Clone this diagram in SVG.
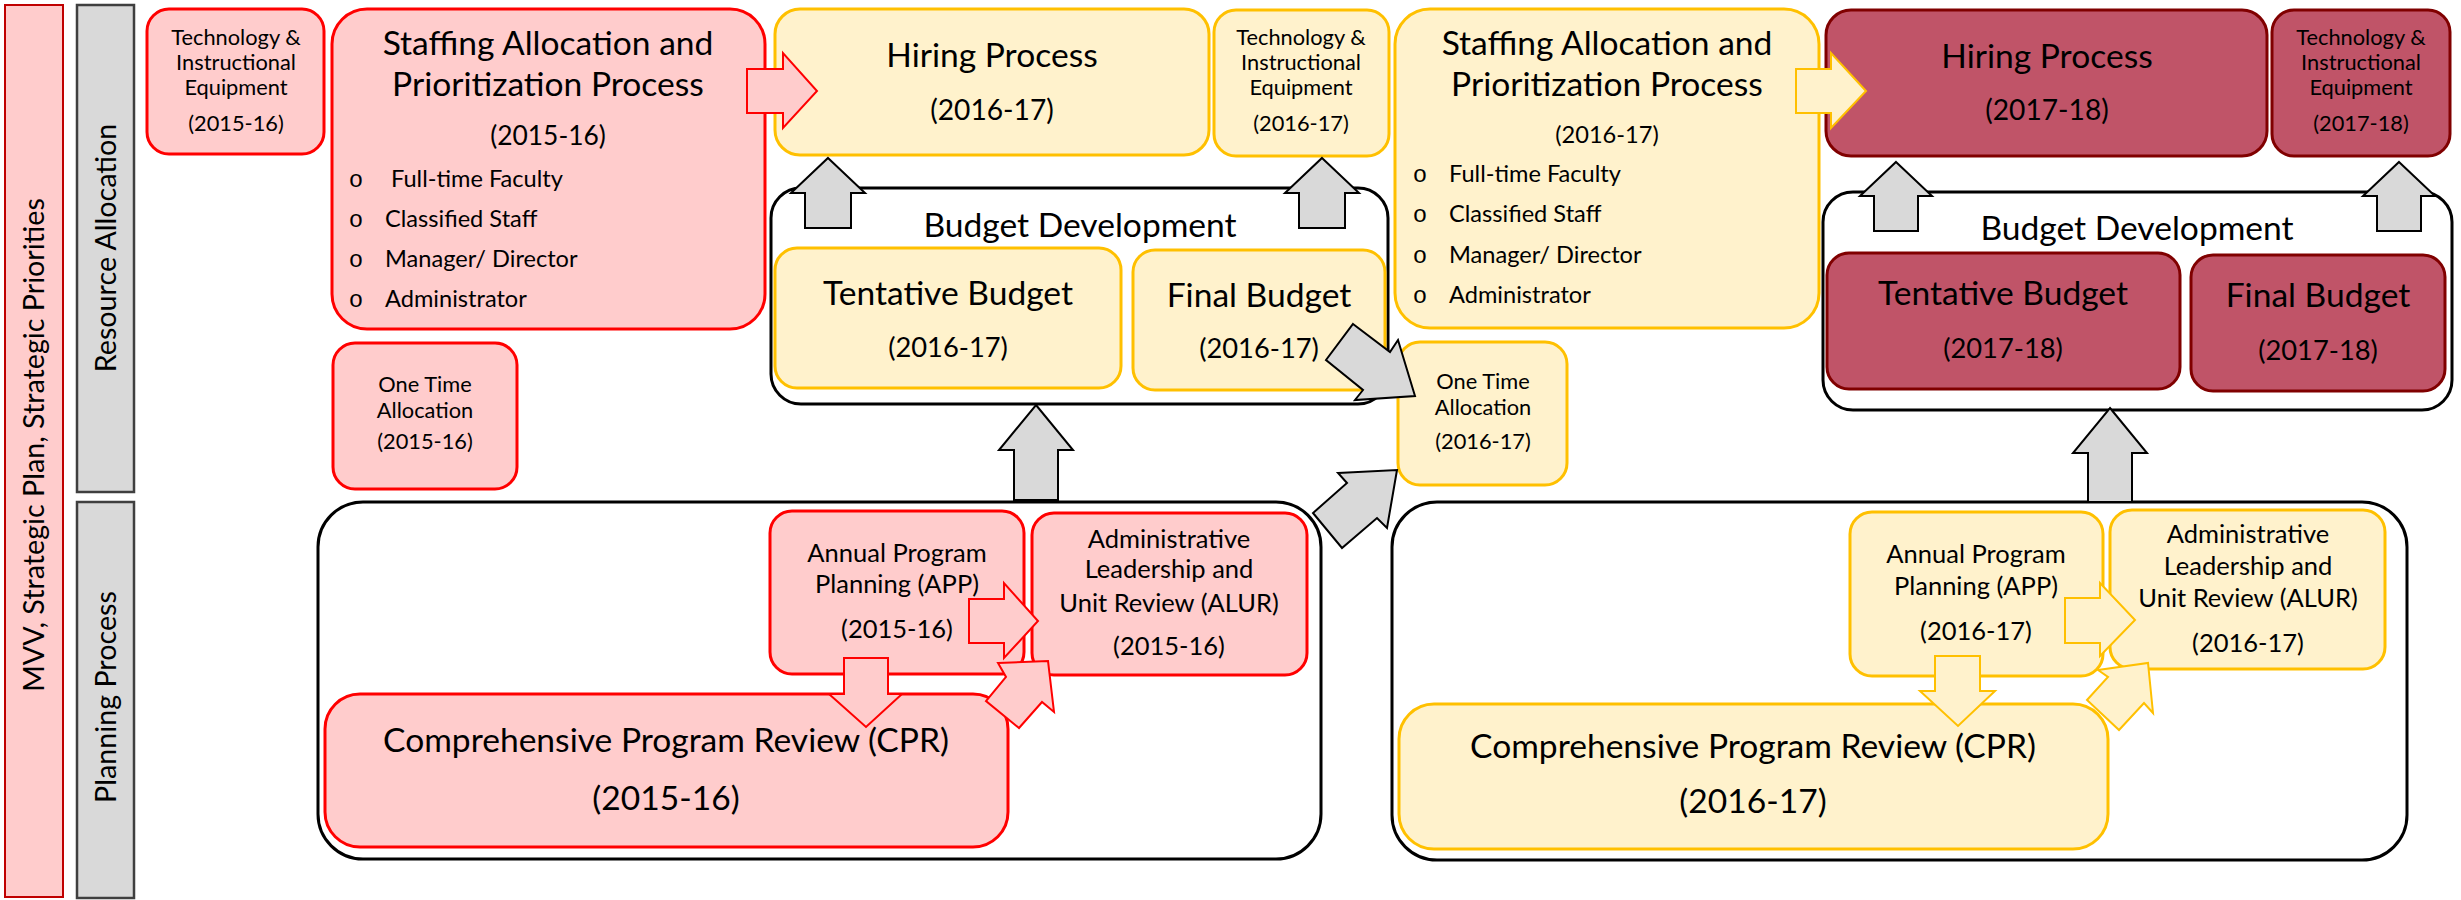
<svg xmlns="http://www.w3.org/2000/svg" width="2461" height="900" viewBox="0 0 2461 900">
<style>
.bg{fill:#ffffff}
.pink{fill:#FFCCCC;stroke:#FF0000;stroke-width:3}
.yel{fill:#FFF2CC;stroke:#FFC000;stroke-width:3}
.mar{fill:#C05468;stroke:#800000;stroke-width:3}
.cont{fill:#ffffff;stroke:#000000;stroke-width:3}
.bar{fill:#D9D9D9;stroke:#3F3F3F;stroke-width:2.5}
.mvv{fill:#FFCCCC;stroke:#C00000;stroke-width:2}
.garrow{fill:#D9D9D9;stroke:#000000;stroke-width:2}
.parrow{fill:#FFCCCC;stroke:#FF0000;stroke-width:2}
.yarrow{fill:#FFF2CC;stroke:#FFC000;stroke-width:2}
text{font-family:Lato,"Liberation Sans",sans-serif;fill:#000000}
.c{text-anchor:middle}
.side{font-size:28.7px;text-anchor:middle}
.t37{font-size:33.6px}
.t31{font-size:28.2px}
.t30{font-size:27.3px}
.t29{font-size:26.4px}
.t28{font-size:25.5px}
.t26{font-size:23.6px}
.t24{font-size:21.8px}
.bul{font-family:"Liberation Mono",monospace;font-size:24px;text-anchor:middle}
</style>
<rect class="bg" x="0" y="0" width="2461" height="900"/>

<g id="mvv">
<rect class="mvv" x="5" y="5" width="58" height="892"/>
<text class="side" transform="translate(44,445) rotate(-90)">MVV, Strategic Plan, Strategic Priorities</text>
</g>
<g id="resource-allocation">
<rect class="bar" x="77" y="5" width="57" height="487"/>
<text class="side" transform="translate(116,248) rotate(-90)">Resource Allocation</text>
</g>
<g id="planning-process">
<rect class="bar" x="77" y="502" width="57" height="396"/>
<text class="side" transform="translate(116,697) rotate(-90)">Planning Process</text>
</g>

<!-- containers -->
<g id="budget-dev-2016">
<rect class="cont" x="771" y="188" width="617" height="216" rx="30"/>
<text class="c t37" x="1080" y="237">Budget Development</text>
</g>
<g id="budget-dev-2017">
<rect class="cont" x="1823" y="192" width="629" height="218" rx="30"/>
<text class="c t37" x="2137" y="240">Budget Development</text>
</g>
<g id="planning-2015">
<rect class="cont" x="318" y="502" width="1003" height="357" rx="45"/>
</g>
<g id="planning-2016">
<rect class="cont" x="1392" y="502" width="1015" height="358" rx="45"/>
</g>

<!-- 2015-16 -->
<g id="tech-2015">
<rect class="pink" x="147" y="9" width="177" height="145" rx="22"/>
<text class="c t24" x="236" y="45">Technology &amp;</text>
<text class="c t24" x="236" y="70">Instructional</text>
<text class="c t24" x="236" y="95">Equipment</text>
<text class="c t24" x="236" y="131">(2015-16)</text>
</g>
<g id="staffing-2015">
<rect class="pink" x="332" y="9" width="433" height="320" rx="35"/>
<text class="c t37" x="548" y="55">Staffing Allocation and</text>
<text class="c t37" x="548" y="96">Prioritization Process</text>
<text class="c t29" x="548" y="145">(2015-16)</text>
<text class="bul" x="356" y="187">o</text>
<text class="t26" x="391" y="187">Full-time Faculty</text>
<text class="bul" x="356" y="227">o</text>
<text class="t26" x="385" y="227">Classified Staff</text>
<text class="bul" x="356" y="267">o</text>
<text class="t26" x="385" y="267">Manager/ Director</text>
<text class="bul" x="356" y="307">o</text>
<text class="t26" x="385" y="307">Administrator</text>
</g>
<g id="onetime-2015">
<rect class="pink" x="333" y="343" width="184" height="146" rx="22"/>
<text class="c t24" x="425" y="392">One Time</text>
<text class="c t24" x="425" y="418">Allocation</text>
<text class="c t24" x="425" y="449">(2015-16)</text>
</g>
<g id="app-2015">
<rect class="pink" x="770" y="511" width="254" height="163" rx="22"/>
<text class="c t28" x="897" y="562">Annual Program</text>
<text class="c t28" x="897" y="593">Planning (APP)</text>
<text class="c t28" x="897" y="638">(2015-16)</text>
</g>
<g id="alur-2015">
<rect class="pink" x="1032" y="513" width="275" height="162" rx="22"/>
<text class="c t28" x="1169" y="548">Administrative</text>
<text class="c t28" x="1169" y="578">Leadership and</text>
<text class="c t28" x="1169" y="612">Unit Review (ALUR)</text>
<text class="c t28" x="1169" y="655">(2015-16)</text>
</g>
<g id="cpr-2015">
<rect class="pink" x="325" y="694" width="683" height="153" rx="35"/>
<text class="c t37" x="666" y="752">Comprehensive Program Review (CPR)</text>
<text class="c t37" x="666" y="810">(2015-16)</text>
</g>

<!-- 2016-17 -->
<g id="hiring-2016">
<rect class="yel" x="775" y="9" width="434" height="146" rx="25"/>
<text class="c t37" x="992" y="67">Hiring Process</text>
<text class="c t31" x="992" y="120">(2016-17)</text>
</g>
<g id="tech-2016">
<rect class="yel" x="1214" y="10" width="175" height="146" rx="22"/>
<text class="c t24" x="1301" y="45">Technology &amp;</text>
<text class="c t24" x="1301" y="70">Instructional</text>
<text class="c t24" x="1301" y="95">Equipment</text>
<text class="c t24" x="1301" y="131">(2016-17)</text>
</g>
<g id="tentative-2016">
<rect class="yel" x="775" y="248" width="346" height="140" rx="22"/>
<text class="c t37" x="948" y="305">Tentative Budget</text>
<text class="c t30" x="948" y="357">(2016-17)</text>
</g>
<g id="final-2016">
<rect class="yel" x="1133" y="250" width="252" height="140" rx="22"/>
<text class="c t37" x="1259" y="307">Final Budget</text>
<text class="c t30" x="1259" y="358">(2016-17)</text>
</g>
<g id="staffing-2016">
<rect class="yel" x="1395" y="9" width="424" height="319" rx="35"/>
<text class="c t37" x="1607" y="55">Staffing Allocation and</text>
<text class="c t37" x="1607" y="96">Prioritization Process</text>
<text class="c t26" x="1607" y="143">(2016-17)</text>
<text class="bul" x="1420" y="182">o</text>
<text class="t26" x="1449" y="182">Full-time Faculty</text>
<text class="bul" x="1420" y="222">o</text>
<text class="t26" x="1449" y="222">Classified Staff</text>
<text class="bul" x="1420" y="263">o</text>
<text class="t26" x="1449" y="263">Manager/ Director</text>
<text class="bul" x="1420" y="303">o</text>
<text class="t26" x="1449" y="303">Administrator</text>
</g>
<g id="onetime-2016">
<rect class="yel" x="1398" y="342" width="169" height="143" rx="22"/>
<text class="c t24" x="1483" y="389">One Time</text>
<text class="c t24" x="1483" y="415">Allocation</text>
<text class="c t24" x="1483" y="449">(2016-17)</text>
</g>
<g id="app-2016">
<rect class="yel" x="1850" y="512" width="253" height="164" rx="22"/>
<text class="c t28" x="1976" y="563">Annual Program</text>
<text class="c t28" x="1976" y="595">Planning (APP)</text>
<text class="c t28" x="1976" y="640">(2016-17)</text>
</g>
<g id="alur-2016">
<rect class="yel" x="2110" y="510" width="275" height="159" rx="22"/>
<text class="c t28" x="2248" y="543">Administrative</text>
<text class="c t28" x="2248" y="575">Leadership and</text>
<text class="c t28" x="2248" y="607">Unit Review (ALUR)</text>
<text class="c t28" x="2248" y="652">(2016-17)</text>
</g>
<g id="cpr-2016">
<rect class="yel" x="1399" y="704" width="709" height="145" rx="35"/>
<text class="c t37" x="1753" y="758">Comprehensive Program Review (CPR)</text>
<text class="c t37" x="1753" y="813">(2016-17)</text>
</g>

<!-- 2017-18 -->
<g id="hiring-2017">
<rect class="mar" x="1826" y="10" width="441" height="146" rx="25"/>
<text class="c t37" x="2047" y="68">Hiring Process</text>
<text class="c t31" x="2047" y="120">(2017-18)</text>
</g>
<g id="tech-2017">
<rect class="mar" x="2272" y="10" width="178" height="146" rx="22"/>
<text class="c t24" x="2361" y="45">Technology &amp;</text>
<text class="c t24" x="2361" y="70">Instructional</text>
<text class="c t24" x="2361" y="95">Equipment</text>
<text class="c t24" x="2361" y="131">(2017-18)</text>
</g>
<g id="tentative-2017">
<rect class="mar" x="1827" y="253" width="353" height="136" rx="22"/>
<text class="c t37" x="2003" y="305">Tentative Budget</text>
<text class="c t30" x="2003" y="358">(2017-18)</text>
</g>
<g id="final-2017">
<rect class="mar" x="2191" y="255" width="254" height="136" rx="22"/>
<text class="c t37" x="2318" y="307">Final Budget</text>
<text class="c t30" x="2318" y="360">(2017-18)</text>
</g>

<g id="connectors">
<polygon class="garrow" points="828,158 865,193 851,193 851,228 805,228 805,193 791,193"/>
<polygon class="garrow" points="1322,158 1359,193 1345,193 1345,228 1299,228 1299,193 1285,193"/>
<polygon class="garrow" points="1896,162 1932,196 1918,196 1918,231 1874,231 1874,196 1860,196"/>
<polygon class="garrow" points="2399,162 2435,196 2421,196 2421,231 2377,231 2377,196 2363,196"/>
<polygon class="garrow" points="1036,405 1073,450 1058,450 1058,500 1014,500 1014,450 999,450"/>
<polygon class="garrow" points="2110,408 2147,453 2132,453 2132,502 2088,502 2088,453 2073,453"/>
<polygon class="garrow" points="1353,324 1390,352 1398,340 1415,396 1355,400 1363,390 1326,360"/>
<polygon class="garrow" points="1338,473 1397,470 1387,528 1377,518 1342,548 1313,513 1347,483"/>
<polygon class="parrow" points="747,69 783,69 783,53 817,91 783,128 783,113 747,113"/>
<polygon class="parrow" points="969,599 1004,599 1004,583 1038,621 1004,658 1004,643 969,643"/>
<polygon class="parrow" points="844,658 888,658 888,694 902,694 866,727 829,694 844,694"/>
<polygon class="parrow" points="998,663 1048,661 1054,712 1042,702 1019,728 986,701 1006,677"/>
<polygon class="yarrow" points="1796,69 1831,69 1831,53 1866,91 1831,128 1831,113 1796,113"/>
<polygon class="yarrow" points="2065,598 2100,598 2100,583 2135,620 2100,656 2100,643 2065,643"/>
<polygon class="yarrow" points="1935,656 1980,656 1980,691 1995,691 1958,726 1920,691 1935,691"/>
<polygon class="yarrow" points="2098,670 2148,663 2153,713 2144,703 2119,730 2087,700 2108,677"/>
</g>
</svg>
